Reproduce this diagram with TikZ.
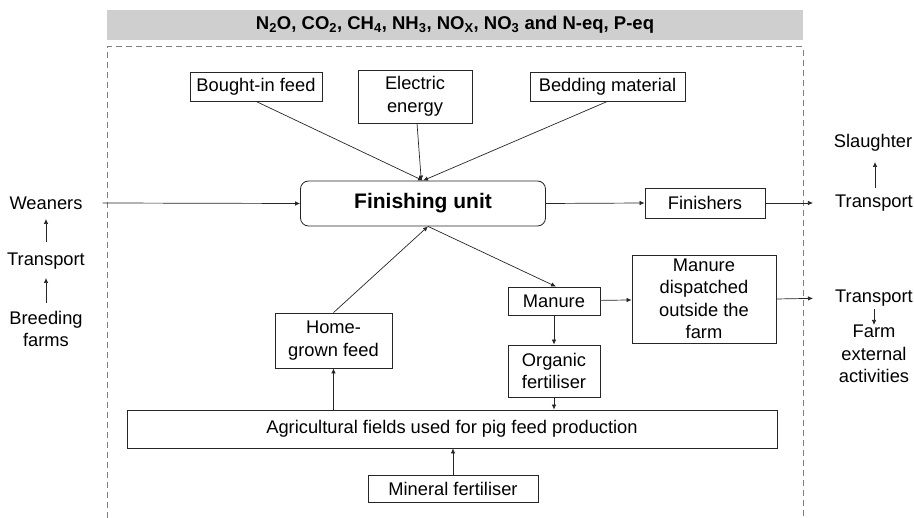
\documentclass[tikz,border=0pt]{standalone}
\usepackage{fontspec}
\setmainfont{Liberation Sans}
\usetikzlibrary{arrows.meta}
\begin{document}
\begin{tikzpicture}[x=1pt,y=-1pt,
  box/.style={draw=black!85, line width=0.8pt, inner sep=1pt, font=\fontsize{18.3}{22.5}\selectfont, align=center},
  lbl/.style={inner sep=2pt, font=\fontsize{18.3}{22.5}\selectfont, align=center},
  arr/.style={draw=black!85, line width=0.7pt, -{Latex[length=5pt,width=4.5pt]}},
  frame/.style={draw=black!50, line width=1pt, dash pattern=on 6pt off 4pt}]
\useasboundingbox (0,0) rectangle (914,518);
% header and frame
\node[fill=black!19, minimum width=696pt, minimum height=30pt, inner sep=0pt,
      font=\bfseries\fontsize{18.5}{20}\selectfont] (hdr) at (455,25)
  {N\textsubscript{2}O, CO\textsubscript{2}, CH\textsubscript{4}, NH\textsubscript{3}, NO\textsubscript{X}, NO\textsubscript{3} and N-eq, P-eq};
\draw[frame] (107,518) -- (107,47) -- (803,47) -- (803,518);
% boxes
\node[box, minimum width=132pt, minimum height=29pt] (bif) at (256,86.5) {Bought-in feed};
\node[box, minimum width=114pt, minimum height=53pt] (ee) at (415,96.5) {Electric\\energy};
\node[box, minimum width=155pt, minimum height=29pt] (bed) at (607.5,86.5) {Bedding material};
\node[box, rounded corners=8pt, minimum width=245pt, minimum height=45pt,
      font=\bfseries\fontsize{21}{25}\selectfont] (fu) at (423,203.5) {Finishing unit};
\node[box, minimum width=120pt, minimum height=30pt] (fin) at (705,203) {Finishers};
\node[box, minimum width=92pt, minimum height=28pt] (man) at (554,301) {Manure};
\node[box, minimum width=144pt, minimum height=88pt] (mdo) at (704,299) {Manure\\dispatched\\outside the\\farm};
\node[box, minimum width=92pt, minimum height=52pt] (org) at (554,371) {Organic\\fertiliser};
\node[box, minimum width=117pt, minimum height=55pt] (hgf) at (333.5,340.5) {Home-\\grown feed};
\node[box, minimum width=650pt, minimum height=38pt] (agr) at (452,429)
  {Agricultural fields used for pig feed production};
\node[box, minimum width=170pt, minimum height=27pt] (min) at (453,488.5) {Mineral fertiliser};
% outside labels
\node[lbl] (wean) at (46,203) {Weaners};
\node[lbl] (trl) at (46,261) {Transport};
\node[lbl] (bre) at (46,329) {Breeding\\farms};
\node[lbl] (sla) at (873,143) {Slaughter};
\node[lbl] (trr1) at (874,203) {Transport};
\node[lbl] (trr2) at (874,298) {Transport};
\node[lbl] (fea) at (874,354) {Farm\\external\\activities};
% connectors
\draw[arr] ([xshift=18pt]wean.east) -- (fu.west);
\draw[arr] ([yshift=19pt]trl.center) -- ([yshift=-16pt]wean.center);
\draw[arr] ([yshift=26pt]bre.center) -- ([yshift=-17pt]trl.center);
\draw[arr] (bif.south) -- (fu.north);
\draw[arr] (ee) -- (fu);
\draw[arr] (bed.south) -- (fu.north);
\draw[arr] (fu.east) -- (fin.west);
\draw[arr, shorten >=20pt] (fin.east) -- (trr1.west);
\draw[arr] ([xshift=1pt,yshift=15pt]trr1.center) -- ([xshift=2pt,yshift=-19pt]sla.center);
\draw[arr] ([yshift=-11pt]trr2.center) -- ([yshift=29pt]fea.center);
\draw[arr] (hgf.north) -- ([xshift=5pt]fu.south);
\draw[arr] ([xshift=5pt]fu.south) -- ([xshift=2pt]man.north);
\draw[arr] (man) -- (mdo);
\draw[arr] (man) -- (org);
\draw[arr] (org.south) -- (org.south |- agr.north);
\draw[arr] (hgf.south |- agr.north) -- (hgf.south);
\draw[arr] (min.north) -- (min.north |- agr.south);
\draw[arr, shorten >=20pt] (mdo.east) -- (trr2.west);
\end{tikzpicture}
\end{document}
